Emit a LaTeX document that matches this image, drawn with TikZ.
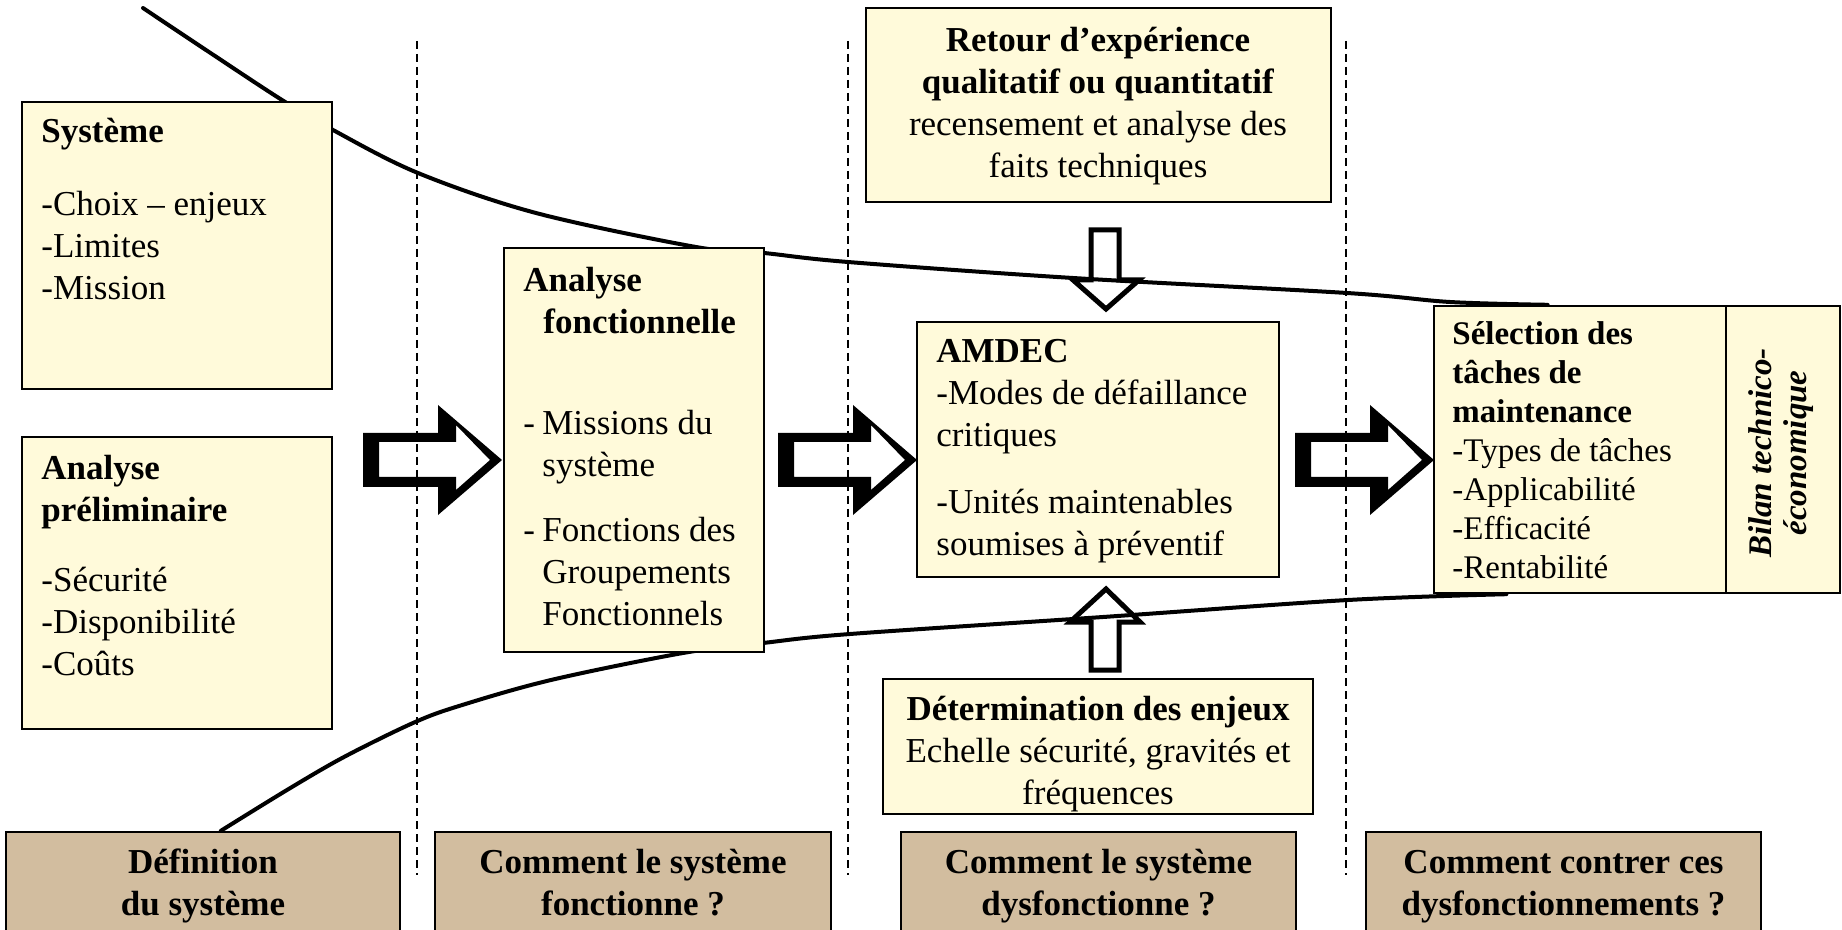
\documentclass[tikz,border=0pt]{standalone}
\usepackage{fontspec}
\setmainfont{Liberation Serif}
\usetikzlibrary{fit,calc,backgrounds}

\definecolor{boxyellow}{RGB}{255,250,218}
\definecolor{boxtan}{RGB}{210,189,159}

% zero-width strut fixing the height of the first line of every text block
\newcommand\firstline{\rule{0pt}{13pt}}
% dash followed by a hanging indent
\newcommand\itemdash{\makebox[9.5pt][l]{-}}

% hollow block arrow with heavy left/bottom outline; #1 = middle of the tail
\newcommand\blockarrow[1]{%
  \fill[even odd rule]
    (#1) ++(0,-27) -- ++(75,0) -- ++(0,-28) -- ++(64,55) -- ++(-64,55)
         -- ++(0,-28) -- ++(-75,0) -- cycle
    (#1) ++(16,-18) -- ++(77,0) -- ++(0,-17) -- ++(34,35) -- ++(-34,30)
         -- ++(0,-13) -- ++(-77,0) -- cycle;}

\begin{document}
\begin{tikzpicture}[x=0.5pt,y=-0.5pt,
  panel/.style={draw=black, line width=1.2pt, fill=boxyellow, inner sep=0pt},
  question/.style={draw=black, line width=1.2pt, fill=boxtan, inner sep=0pt},
  body/.style={inner sep=0pt, align=left, font=\fontsize{17.5}{21}\selectfont},
  bodyc/.style={inner sep=0pt, align=center, font=\fontsize{17.5}{21}\selectfont},
  bodysmall/.style={inner sep=0pt, align=left, font=\fontsize{16.5}{19.5}\selectfont},
  heading/.style={inner sep=0pt, align=center, font=\fontsize{17.5}{21}\selectfont\bfseries},
  divider/.style={line width=0.7pt, dash pattern=on 4pt off 2.5pt},
  trend/.style={line width=2pt, line cap=round},
  hollow/.style={draw=black, line width=2.5pt, fill=white, line join=miter},
]
\useasboundingbox (0,0) rectangle (1842,930);
\clip (0,0) rectangle (1842,930);

% ---- boxes of the first column
\node[panel, fit={(22,102) (332,389)}] (sys) {};
\node[panel, fit={(22,437) (332,729)}] (prelim) {};
% ---- second column
\node[panel, fit={(504,248) (764,652)}] (af) {};
% ---- third column
\node[panel, fit={(866,8) (1331,202)}] (rex) {};
\node[panel, fit={(917,322) (1279,577)}] (amdec) {};
\node[panel, fit={(883,679) (1313,814)}] (enjeux) {};
% ---- fourth column
\node[panel, fit={(1434,306) (1726,593)}] (sel) {};
\node[panel, fit={(1726,306) (1840,593)}] (bilan) {};
% ---- questions along the bottom
\node[question, fit={(6,832) (400,945)}] (q1) {};
\node[question, fit={(435,832) (831,945)}] (q2) {};
\node[question, fit={(901,832) (1296,945)}] (q3) {};
\node[question, fit={(1366,832) (1761,945)}] (q4) {};

% ---- column separators, small arrows and the funnel curves
\begin{pgfonlayer}{background}
  \foreach \x/\n in {417/d1, 848/d2, 1346/d3} {
    \coordinate (\n t) at (\x,41);
    \coordinate (\n b) at (\x,875);
    \draw[divider] (\n t) -- (\n b);
  }
  % feedback arrow into the AMDEC box
  \draw[hollow] (1091,230) -- (1119,230) -- (1119,280) -- (1139,280)
       -- (1106,309) -- (1073,280) -- (1091,280) -- cycle;
  % stakes arrow into the AMDEC box
  \draw[hollow] (1091,670) -- (1119,670) -- (1119,622) -- (1140,622)
       -- (1106,589) -- (1070,622) -- (1091,622) -- cycle;
  % upper and lower boundary of the funnel
  \coordinate (u0) at (143,8);
  \coordinate (u1) at ($(sel.north west)!0.39!(sel.north east)$);
  \draw[trend] plot[smooth, tension=0.55] coordinates {(u0) (212,54) (282,100)
      (333,130) (418,173) (536,213) (696,247) (764,253) (848,262) (1073,278)
      (1347,293) (1450,302) (u1)};
  \coordinate (l0) at ($(q1.north west)!0.545!(q1.north east)$);
  \coordinate (l1) at ($(sel.south west)!0.25!(sel.south east)$);
  \draw[trend] plot[smooth, tension=0.55] coordinates {(l0) (287,790) (344,757)
      (413,723) (459,706) (551,680) (683,653) (763,643) (850,634) (1103,617)
      (1348,600) (l1)};
\end{pgfonlayer}

% ---- block arrows between the columns
\coordinate (a1) at (363,460);
\coordinate (a2) at (778,460);
\coordinate (a3) at (1295,460);
\blockarrow{a1}
\blockarrow{a2}
\blockarrow{a3}

% ---- texts
\node[body, anchor=north west] (sysT) at (41,116)
  {\firstline\textbf{Système}\\[15.5pt]-Choix – enjeux\\-Limites\\-Mission};
\node[body, anchor=north west] (prelimT) at (41,453)
  {\firstline\textbf{Analyse}\\\textbf{préliminaire}\\[14pt]-Sécurité\\-Disponibilité\\-Coûts};
\node[body, anchor=north west] (afT) at (523,265)
  {\firstline\textbf{Analyse}\\\hspace*{10pt}\textbf{fonctionnelle}\\[29.5pt]
   \itemdash Missions du\\\hspace*{9.5pt}système\\[11.5pt]
   \itemdash Fonctions des\\\hspace*{9.5pt}Groupements\\\hspace*{9.5pt}Fonctionnels};
\node[bodyc, anchor=north] (rexT) at (1098,25)
  {\firstline\textbf{Retour d’expérience}\\\textbf{qualitatif ou quantitatif}\\
   recensement et analyse des\\faits techniques};
\node[body, anchor=north west] (amdecT) at (936,336)
  {\firstline\textbf{AMDEC}\\-Modes de défaillance\\critiques\\[12.5pt]
   -Unités maintenables\\soumises à préventif};
\node[bodyc, anchor=north] (enjeuxT) at (1098,694)
  {\firstline\textbf{Détermination des enjeux}\\Echelle sécurité, gravités et\\fréquences};
\node[bodysmall, anchor=north west] (selT) at (1452,318)
  {\firstline\textbf{Sélection des}\\\textbf{tâches de}\\\textbf{maintenance}\\
   -Types de tâches\\-Applicabilité\\-Efficacité\\-Rentabilité};
\node[inner sep=0pt, align=center, rotate=90,
      font=\fontsize{16.5}{17.5}\selectfont\bfseries\itshape] (bilanT)
  at (1781,453) {Bilan technico-\\économique};

\node[heading, anchor=north] (q1T) at (q1.north |- 0,847) {\firstline Définition\\du système};
\node[heading, anchor=north] (q2T) at (q2.north |- 0,847) {\firstline Comment le système\\fonctionne ?};
\node[heading, anchor=north] (q3T) at (q3.north |- 0,847) {\firstline Comment le système\\dysfonctionne ?};
\node[heading, anchor=north] (q4T) at (q4.north |- 0,847) {\firstline Comment contrer ces\\dysfonctionnements ?};
\end{tikzpicture}
\end{document}
